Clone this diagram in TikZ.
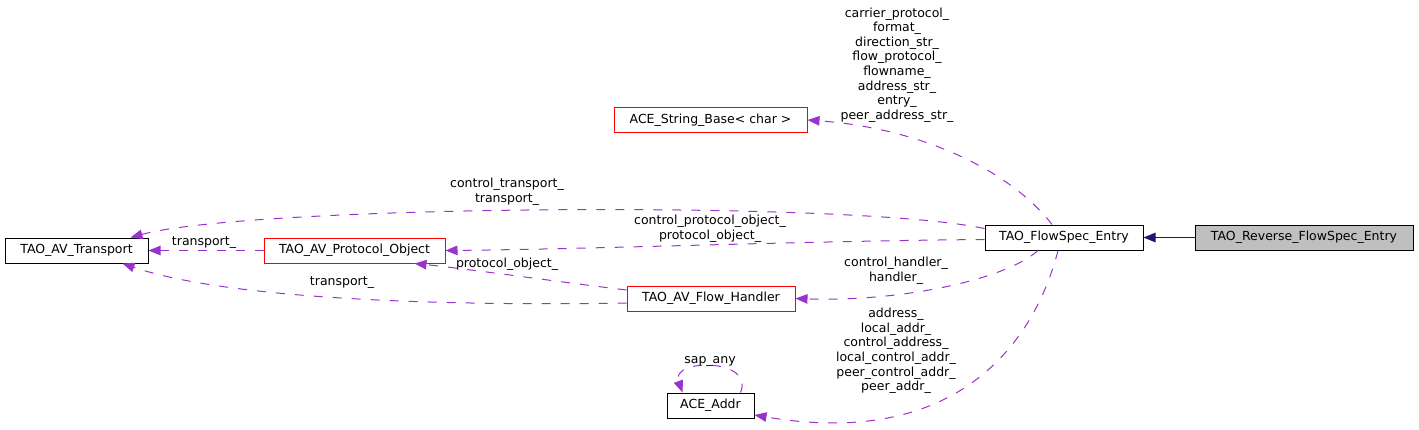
\documentclass[tikz,border=0pt]{standalone}
\usepackage{fontspec}
\setmainfont{DejaVu Sans}
\usetikzlibrary{arrows.meta}
\definecolor{orchid}{HTML}{9A32CD}
\definecolor{navy}{HTML}{191970}
\definecolor{boxgray}{HTML}{BFBFBF}

\begin{document}
\begin{tikzpicture}[x=1pt, y=-1pt,
        cls/.style={draw, line width=1pt, minimum height=25pt, inner sep=2pt, font=\fontsize{12.5}{14.6}\selectfont},
        redcls/.style={cls, draw=red},
        lbl/.style={align=center, inner sep=0pt, font=\fontsize{12.5}{14.6}\selectfont},
        dep/.style={draw=orchid, line width=1pt, dash pattern=on 9pt off 10pt, -{Triangle[length=12pt,width=9.5pt]}},
        inh/.style={draw=navy, line width=1pt, -{Triangle[length=12pt,width=9.5pt]}}]
        \useasboundingbox (0,0) rectangle (1419,429);
        \node[cls, minimum width=143pt] (ats) at (76.5,250.5) {TAO\_AV\_Transport};
        \node[redcls, minimum width=181pt] (apo) at (354.5,250.5) {TAO\_AV\_Protocol\_Object};
        \node[redcls, minimum width=193pt] (asb) at (710.5,120) {ACE\_String\_Base< char >};
        \node[cls, minimum width=158pt] (fse) at (1064,237.5) {TAO\_FlowSpec\_Entry};
        \node[cls, minimum width=218pt, fill=boxgray] (rev) at (1304,237.5) {TAO\_Reverse\_FlowSpec\_Entry};
        \node[redcls, minimum width=168pt] (afh) at (711,298.5) {TAO\_AV\_Flow\_Handler};
        \node[cls, minimum width=87pt] (aad) at (710.5,405.5) {ACE\_Addr};

        \draw[inh] (rev.west) -- (fse.east);
        \draw[dep] ([xshift=-12pt]fse.north) .. controls (1010,170) and (920,128) .. (asb.east);
        \node[lbl] (lstr) at (897,65) {carrier\_protocol\_\\format\_\\direction\_str\_\\flow\_protocol\_\\flowname\_\\address\_str\_\\entry\_\\peer\_address\_str\_};
        \draw[dep] ([yshift=9pt]fse.west) .. controls (850,200) and (250,205) .. ([xshift=-18pt]ats.north east);
        \node[lbl] (lctr) at (507,191.5) {control\_transport\_\\transport\_};
        \draw[dep] ([yshift=-2pt]fse.west) .. controls (800,241) and (600,249) .. (apo.east);
        \node[lbl] (lcpo) at (710,228.5) {control\_protocol\_object\_\\protocol\_object\_};
        \draw[dep] ([xshift=-26pt]fse.south) .. controls (1005,280) and (900,302) .. (afh.east);
        \node[lbl] (lch) at (896,271) {control\_handler\_\\handler\_};
        \draw[dep] ([xshift=-6pt]fse.south) .. controls (1035,340) and (960,450) .. ([yshift=-9.5pt]aad.east);
        \node[lbl] (laddr) at (896,351) {address\_\\local\_addr\_\\control\_address\_\\local\_control\_addr\_\\peer\_control\_addr\_\\peer\_addr\_};
        \draw[dep] ([xshift=30pt]aad.north) .. controls (755,358) and (670,358) .. ([xshift=-28pt]aad.north);
        \node[lbl] (lsap) at (710,361) {sap\_any};
        \draw[dep] (apo.west) -- (ats.east);
        \node[lbl] (ltr) at (204,243) {transport\_};
        \draw[dep] ([yshift=8.5pt]afh.west) .. controls (560,282) and (460,268) .. ([xshift=60pt]apo.south);
        \node[lbl] (lpo) at (507,264) {protocol\_object\_};
        \draw[dep] ([yshift=-4.5pt]afh.west) .. controls (450,306) and (230,300) .. ([xshift=46pt]ats.south);
        \node[lbl] (ltr2) at (342,283) {transport\_};
    \end{tikzpicture}
\end{document}
